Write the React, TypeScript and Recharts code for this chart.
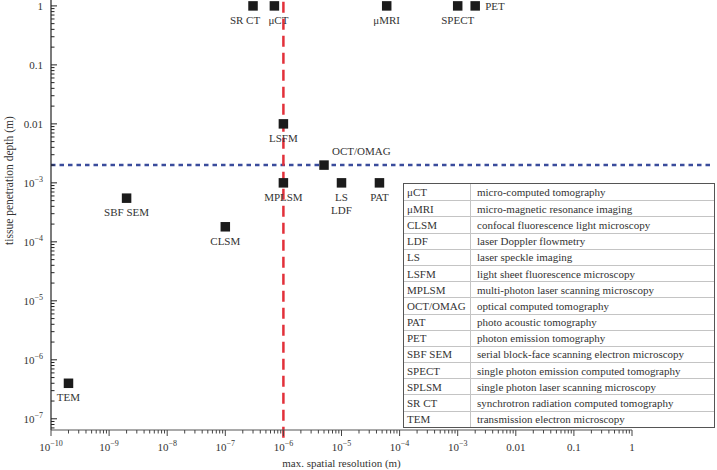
import React from "react";
import { ScatterChart, Scatter, XAxis, YAxis, ReferenceLine } from "recharts";

const FONT = "'Liberation Serif', 'Times New Roman', serif";
const TEXT = "#333";

// ---- data ----
const techniques = ["TEM", "SBF SEM", "CLSM", "MPLSM", "LSFM", "OCT/OMAG", "LS\nLDF", "PAT", "SR CT", "μCT", "μMRI", "SPECT", "PET"];
const resolution = [2e-10, 2e-9, 1e-7, 1e-6, 1e-6, 5e-6, 1e-5, 4.5e-5, 3e-7, 7e-7, 6e-5, 1e-3, 2e-3];
const depth = [4e-7, 5.5e-4, 1.8e-4, 1e-3, 1e-2, 2e-3, 1e-3, 1e-3, 1, 1, 1, 1, 1];

const xMajorTicks = [1e-10, 1e-9, 1e-8, 1e-7, 1e-6, 1e-5, 1e-4, 1e-3, 1e-2, 1e-1, 1];
const xMajorLabels = ["10^−10", "10^−9", "10^−8", "10^−7", "10^−6", "10^−5", "10^−4", "10^−3", "0.01", "0.1", "1"];
const yMajorTicks = [1e-8, 1e-7, 1e-6, 1e-5, 1e-4, 1e-3, 1e-2, 1e-1, 1];
const yMajorLabels = ["10^−8", "10^−7", "10^−6", "10^−5", "10^−4", "10^−3", "0.01", "0.1", "1"];
const minorMultipliers = [2, 3, 4, 5, 6, 7, 8, 9];

const resolutionThreshold = 1e-6;
const depthThreshold = 2e-3;

const abbreviations = ["μCT", "μMRI", "CLSM", "LDF", "LS", "LSFM", "MPLSM", "OCT/OMAG", "PAT", "PET", "SBF SEM", "SPECT", "SPLSM", "SR CT", "TEM"];
const descriptions = [
  "micro-computed tomography",
  "micro-magnetic resonance imaging",
  "confocal fluorescence light microscopy",
  "laser Doppler flowmetry",
  "laser speckle imaging",
  "light sheet fluorescence microscopy",
  "multi-photon laser scanning microscopy",
  "optical computed tomography",
  "photo acoustic tomography",
  "photon emission tomography",
  "serial block-face scanning electron microscopy",
  "single photon emission computed tomography",
  "single photon laser scanning microscopy",
  "synchrotron radiation computed tomography",
  "transmission electron microscopy",
];

// ---- axis config ----
const xDomain = [1e-10, 1];
const yDomain = [Math.pow(10, -7.19), Math.pow(10, 0.1)];

const withMinor = (majors: number[], domain: number[]) => {
  const out: number[] = [];
  majors.forEach((m) => {
    out.push(m);
    minorMultipliers.forEach((k) => out.push(m * k));
  });
  return out.filter((v) => v >= domain[0] * 0.999 && v <= domain[1] * 1.001).sort((a, b) => a - b);
};
const xTicks = withMinor(xMajorTicks, xDomain);
const yTicks = withMinor(yMajorTicks, yDomain);

const majorLabel = (v: number, majors: number[], labels: string[]) => {
  const idx = majors.findIndex((t) => Math.abs(Math.log10(v) - Math.log10(t)) < 1e-6);
  return idx >= 0 ? labels[idx] : null;
};

const TickText = ({ label, x, y, anchor }: any) => {
  const [base, exp] = label.split("^");
  return (
    <text x={x} y={y} textAnchor={anchor} fontFamily={FONT} fontSize={11} fill={TEXT}>
      {base}
      {exp !== undefined && (
        <tspan dy={-5} fontSize={8}>
          {exp}
        </tspan>
      )}
    </text>
  );
};

const XTick = (props: any) => {
  const { x, y, payload } = props;
  const label = majorLabel(payload.value, xMajorTicks, xMajorLabels);
  return (
    <g>
      <line x1={x} x2={x} y1={y} y2={y + (label ? 6 : 3.5)} stroke="#444" strokeWidth={1} />
      {label && <TickText label={label} x={x} y={y + 21} anchor="middle" />}
    </g>
  );
};

const YTick = (props: any) => {
  const { x, y, payload } = props;
  const label = majorLabel(payload.value, yMajorTicks, yMajorLabels);
  return (
    <g>
      <line x1={x} x2={x + (label ? 6 : 3.5)} y1={y} y2={y} stroke="#222" strokeWidth={1} />
      {label && <TickText label={label} x={x - 8} y={y + 4} anchor="end" />}
    </g>
  );
};

// label placement relative to the square: [dx, dy, anchor]
const labelPlacement: Record<string, [number, number, string]> = {
  PET: [10, 4, "start"],
  "OCT/OMAG": [8, -10, "start"],
  "SR CT": [-8, 18, "middle"],
  "μCT": [4, 18, "middle"],
};

const SquareShape = (props: any) => {
  const { cx, cy, payload } = props;
  const s = 9.5;
  const lines: string[] = payload.name.split("\n");
  const [dx, dy, anchor] = labelPlacement[payload.name] || [0, 18, "middle"];
  return (
    <g>
      <rect x={cx - s / 2} y={cy - s / 2} width={s} height={s} fill="#1b1b1b" />
      <text x={cx + dx} y={cy + dy} textAnchor={anchor} fontFamily={FONT} fontSize={11} fill={TEXT}>
        {lines.map((l, i) => (
          <tspan key={i} x={cx + dx} dy={i === 0 ? 0 : 13}>
            {l}
          </tspan>
        ))}
      </text>
    </g>
  );
};

const points = techniques.map((name, i) => ({ name, x: resolution[i], y: depth[i] }));

const YTitle = (props: any) => {
  const vb = props.viewBox;
  const cx = vb.x + 9;
  const cy = vb.y + vb.height * 0.42;
  return (
    <text x={cx} y={cy} transform={`rotate(-90 ${cx} ${cy})`} textAnchor="middle" dominantBaseline="central" fontFamily={FONT} fontSize={11.5} fill={TEXT}>
      tissue penetration depth (m)
    </text>
  );
};

export default function App() {
  return (
    <div style={{ position: "absolute", left: 0, top: 0, width: 717, height: 470, background: "#fff" }}>
      <ScatterChart width={717} height={470} margin={{ top: 0, right: 85, bottom: 0, left: 0 }}>
        <XAxis
          type="number"
          dataKey="x"
          scale="log"
          domain={xDomain}
          allowDataOverflow
          ticks={xTicks}
          interval={0}
          tickSize={0}
          tickMargin={0}
          tick={<XTick />}
          axisLine={{ stroke: "#555", strokeWidth: 1.2 }}
          height={40}
          label={{ value: "max. spatial resolution (m)", position: "insideBottom", offset: 3, style: { fontFamily: FONT, fontSize: 11, fill: TEXT } }}
        />
        <YAxis
          type="number"
          dataKey="y"
          scale="log"
          domain={yDomain}
          allowDataOverflow
          ticks={yTicks}
          interval={0}
          tickSize={0}
          tickMargin={0}
          tick={<YTick />}
          axisLine={{ stroke: "#222", strokeWidth: 1.2 }}
          width={51}
          label={{ content: (p: any) => <YTitle {...p} /> }}
        />
        <ReferenceLine
          segment={[{ x: xDomain[0], y: depthThreshold }, { x: 24, y: depthThreshold }]}
          ifOverflow="visible"
          stroke="#3a4c9c"
          strokeWidth={2.5}
          strokeDasharray="4.5 4"
        />
        <ReferenceLine
          segment={[{ x: resolutionThreshold, y: Math.pow(10, -7.32) }, { x: resolutionThreshold, y: yDomain[1] }]}
          ifOverflow="visible"
          stroke="#e2303a"
          strokeWidth={2.5}
          strokeDasharray="11 6"
        />
        <Scatter data={points} shape={(p: any) => <SquareShape {...p} />} isAnimationActive={false} />
      </ScatterChart>
      <div
        style={{
          position: "absolute",
          left: 403,
          top: 183,
          width: 312,
          height: 245,
          border: "1px solid #555",
          boxSizing: "border-box",
          background: "#fff",
          fontFamily: FONT,
          fontSize: 11,
          color: TEXT,
        }}
      >
        {abbreviations.map((a, i) => (
          <div
            key={a}
            style={{
              display: "flex",
              alignItems: "center",
              height: 243 / 15,
              borderTop: i ? "1px solid #c4c4c4" : "none",
              boxSizing: "border-box",
            }}
          >
            <div style={{ width: 67, height: "100%", display: "flex", alignItems: "center", borderRight: "1px solid #c4c4c4", paddingLeft: 3, boxSizing: "border-box" }}>{a}</div>
            <div style={{ paddingLeft: 6 }}>{descriptions[i]}</div>
          </div>
        ))}
      </div>
    </div>
  );
}
